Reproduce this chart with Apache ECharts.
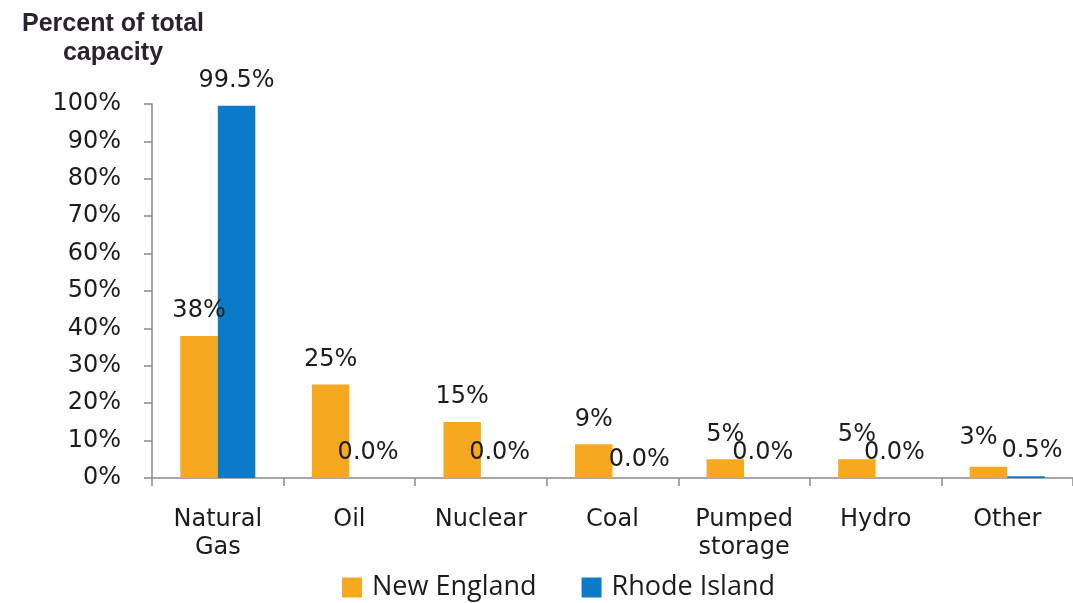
<!DOCTYPE html>
<html>
<head>
<meta charset="utf-8">
<script src="https://cdn.jsdelivr.net/npm/echarts@6/dist/echarts.min.js"></script>
<style>
  html, body { margin: 0; padding: 0; background: #fff; }
  #chart { width: 1073px; height: 603px; }
</style>
</head>
<body>
<div id="chart"></div>
<script>
// capacity mix by fuel type
const categories = ["Natural\nGas", "Oil", "Nuclear", "Coal", "Pumped\nstorage", "Hydro", "Other"];
const newEngland = [38, 25, 15, 9, 5, 5, 3];
const rhodeIsland = [99.5, 0, 0, 0, 0, 0, 0.5];
const yTicks = { min: 0, max: 100, step: 10 };

// small hand placed label nudges, like the original
const neNudge = { 6: [-10, -4] };
const riNudge = { 3: [8, 7], 6: [6, 0] };

const fontMain = "DejaVu Sans";
const textColor = "#1c1c1c";

function withNudge(values, nudge) {
  return values.map((v, i) => {
    if (!nudge[i]) return v;
    return { value: v, label: { offset: nudge[i] } };
  });
}

const chart = echarts.init(document.getElementById("chart"));
chart.setOption({
  animation: false,
  title: {
    text: "Percent of total\ncapacity",
    left: 108,
    top: 5,
    textAlign: "center",
    textStyle: {
      fontFamily: "Liberation Sans",
      fontWeight: "bold",
      fontSize: 25,
      lineHeight: 29,
      color: "#2b2230",
    },
  },
  grid: {
    left: 152,
    top: 104,
    width: 927,
    bottom: 125,
  },
  legend: {
    data: ["New England", "Rhode Island"],
    left: 337,
    top: 569,
    icon: "rect",
    itemWidth: 20,
    itemHeight: 20,
    itemGap: 45,
    textStyle: {
      fontFamily: "Open Sans",
      fontSize: 27,
      color: textColor,
      padding: [0, 0, 0, 5],
    },
  },
  xAxis: {
    type: "category",
    data: categories,
    axisLine: { lineStyle: { color: "#8a8a8a", width: 1.5 } },
    axisTick: { show: true, length: 8, lineStyle: { color: "#8a8a8a", width: 1.5 } },
    axisLabel: {
      interval: 0,
      margin: 28,
      fontFamily: fontMain,
      fontSize: 24,
      lineHeight: 28,
      color: textColor,
    },
  },
  yAxis: {
    type: "value",
    min: yTicks.min,
    max: yTicks.max,
    interval: yTicks.step,
    splitLine: { show: false },
    axisLine: { show: true, lineStyle: { color: "#8a8a8a", width: 1.5 } },
    axisTick: { show: true, length: 8, lineStyle: { color: "#8a8a8a", width: 1.5 } },
    axisLabel: {
      formatter: "{value}%",
      margin: 31,
      fontFamily: fontMain,
      fontSize: 24,
      color: textColor,
    },
  },
  series: [
    {
      name: "New England",
      type: "bar",
      data: withNudge(newEngland, neNudge),
      barCategoryGap: "43%",
      barGap: "0%",
      itemStyle: { color: "#F6A81F" },
      label: {
        show: true,
        position: "top",
        distance: 13,
        fontFamily: fontMain,
        fontSize: 24,
        color: textColor,
        formatter: (p) => p.value + "%",
      },
    },
    {
      name: "Rhode Island",
      type: "bar",
      data: withNudge(rhodeIsland, riNudge),
      barCategoryGap: "43%",
      barGap: "0%",
      itemStyle: { color: "#0A7AC9" },
      label: {
        show: true,
        position: "top",
        distance: 13,
        fontFamily: fontMain,
        fontSize: 24,
        color: textColor,
        formatter: (p) => p.value.toFixed(1) + "%",
      },
    },
  ],
});
</script>
</body>
</html>
